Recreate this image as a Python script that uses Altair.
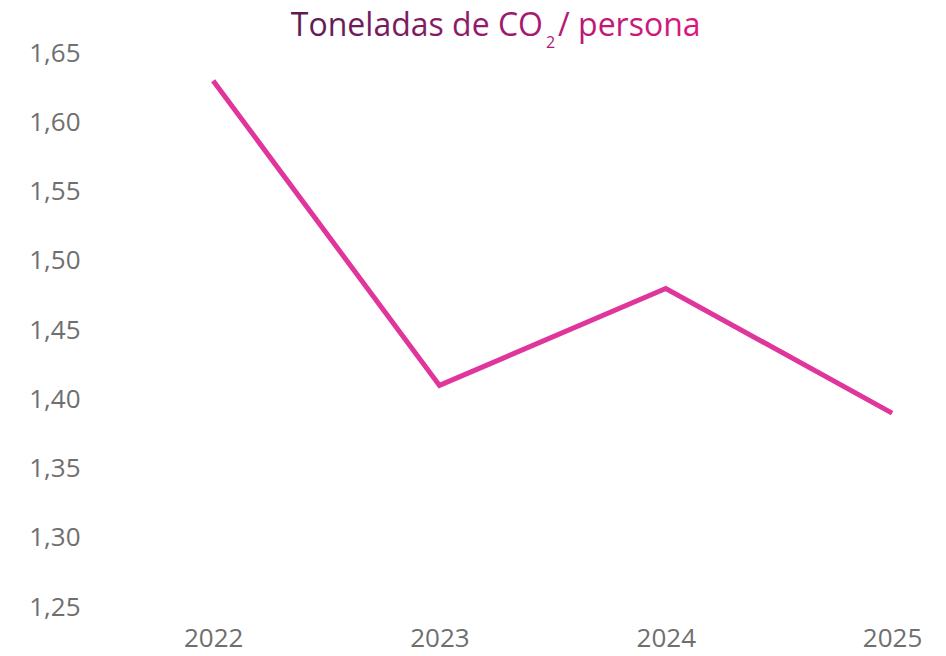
import altair as alt
import pandas as pd

years = [2022, 2023, 2024, 2025]
values = [1.63, 1.41, 1.48, 1.39]
y_ticks = [1.25, 1.30, 1.35, 1.40, 1.45, 1.50, 1.55, 1.60, 1.65]

df = pd.DataFrame({"year": years, "value": values})

FONT = "Open Sans"
GRAY = "#6f6f6f"
LINE = "#e0359a"

W, H = 836, 554

line = alt.Chart(df).mark_line(color=LINE, strokeWidth=5, strokeCap="butt", strokeJoin="miter", clip=False).encode(
    x=alt.X("year:Q",
            scale=alt.Scale(domain=[2021.50, 2025.194], nice=False, zero=False),
            axis=alt.Axis(values=years, format="d", title=None, grid=False, domain=False,
                          ticks=False, labelFont=FONT, labelFontSize=26, labelColor=GRAY,
                          labelPadding=18, labelFlush=False)),
    y=alt.Y("value:Q",
            scale=alt.Scale(domain=[1.25, 1.65], nice=False, zero=False),
            axis=alt.Axis(values=y_ticks, title=None, grid=False, domain=False, ticks=False,
                          labelExpr="replace(format(datum.value, '.2f'), '.', ',')",
                          labelFont=FONT, labelFontSize=26, labelColor=GRAY,
                          labelPadding=20, labelFlush=False)),
)

title_df = pd.DataFrame({"a": [0]})

def grad(c1, c2):
    return alt.LinearGradient(
        gradient="linear",
        stops=[alt.GradientStop(offset=0, color=c1), alt.GradientStop(offset=1, color=c2)],
        x1=0, x2=1, y1=0, y2=0,
    )

t1 = alt.Chart(title_df).mark_text(
    text="Toneladas de CO", font=FONT, fontSize=32, align="right", baseline="alphabetic",
    fill=grad("#5a1b52", "#a81a72"), clip=False,
).encode(x=alt.value(443), y=alt.value(-17))

t2 = alt.Chart(title_df).mark_text(
    text="2", font=FONT, fontSize=16, align="left", baseline="alphabetic",
    fill="#ae1973", clip=False,
).encode(x=alt.value(446), y=alt.value(-5))

t3 = alt.Chart(title_df).mark_text(
    text="/ persona", font=FONT, fontSize=32, align="left", baseline="alphabetic",
    fill=grad("#b41875", "#da177f"), clip=False,
).encode(x=alt.value(458), y=alt.value(-17))

chart = alt.layer(line, t1, t2, t3).properties(
    width=W, height=H,
    background="white",
    autosize=alt.AutoSizeParams(type="none"),
    padding={"left": 92, "top": 45, "right": 0, "bottom": 50},
).configure_view(strokeWidth=0, stroke=None)

chart.save("out.html", embed_options={"renderer": "svg", "actions": False})
